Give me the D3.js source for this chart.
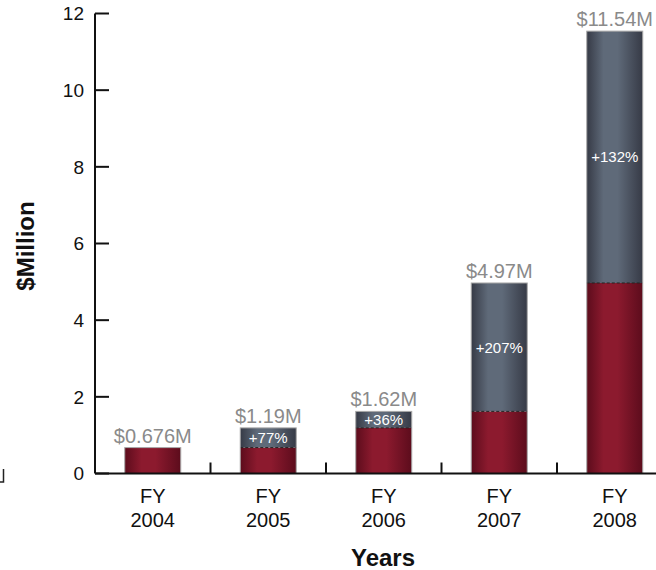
<!DOCTYPE html>
<html>
<head>
<meta charset="utf-8">
<script src="https://cdn.jsdelivr.net/npm/d3@7"></script>
<style>
  html, body { margin: 0; padding: 0; background: #fff; }
  svg { display: block; font-family: "Liberation Sans", Arial, sans-serif; }
</style>
</head>
<body>
<svg id="chart" width="656" height="570"></svg>
<script>
// Annual revenue, $ million
const years = ["2004", "2005", "2006", "2007", "2008"];
const totals = [0.676, 1.19, 1.62, 4.97, 11.54];
const totalLabels = ["$0.676M", "$1.19M", "$1.62M", "$4.97M", "$11.54M"];
const growthLabels = ["", "+77%", "+36%", "+207%", "+132%"];
const yTicks = [0, 2, 4, 6, 8, 10, 12];

const svg = d3.select("#chart");
const x0 = 95, y0 = 473.5, yTop = 13.5;
const bandW = 115.5;

const x = d3.scaleBand().domain(years).range([x0, x0 + bandW * years.length]).padding(0);
const y = d3.scaleLinear().domain([0, 12]).range([y0, yTop]);
const barW = 56;

// gradients
const defs = svg.append("defs");
function grad(id, edge, mid) {
  const g = defs.append("linearGradient").attr("id", id).attr("x1", "0%").attr("x2", "100%");
  g.append("stop").attr("offset", "0%").attr("stop-color", edge);
  g.append("stop").attr("offset", "30%").attr("stop-color", mid);
  g.append("stop").attr("offset", "55%").attr("stop-color", mid);
  g.append("stop").attr("offset", "100%").attr("stop-color", edge);
}
grad("gRed", "#5c0c1c", "#8c1a2e");
grad("gGray", "#363a46", "#5f6a79");

// previous year's level within each bar
const base = totals.map((v, i) => i === 0 ? v : totals[i - 1]);

const bars = svg.append("g");
years.forEach((yr, i) => {
  const bx = x(yr) + (x.bandwidth() - barW) / 2;
  const g = bars.append("g");
  // red: carried-over level
  g.append("rect")
    .attr("x", bx).attr("width", barW)
    .attr("y", y(base[i])).attr("height", y(0) - y(base[i]))
    .attr("fill", "url(#gRed)");
  if (i > 0) {
    // gray: year-over-year increase
    g.append("rect")
      .attr("x", bx).attr("width", barW)
      .attr("y", y(totals[i])).attr("height", y(base[i]) - y(totals[i]))
      .attr("fill", "url(#gGray)");
    g.append("line")
      .attr("x1", bx).attr("x2", bx + barW)
      .attr("y1", y(base[i])).attr("y2", y(base[i]))
      .attr("stroke", "#222").attr("stroke-width", 1).attr("stroke-dasharray", "3,2");
    g.append("text")
      .attr("x", bx + barW / 2)
      .attr("y", (y(base[i]) + y(totals[i])) / 2)
      .attr("dy", "0.36em")
      .attr("text-anchor", "middle")
      .attr("fill", "#fff").attr("font-size", 15)
      .text(growthLabels[i]);
  }
  // thin outline around the whole bar
  g.append("rect")
    .attr("x", bx).attr("width", barW)
    .attr("y", y(totals[i])).attr("height", y(0) - y(totals[i]))
    .attr("fill", "none").attr("stroke", "#a8a8a8").attr("stroke-width", 1);
  g.append("text")
    .attr("x", bx + barW / 2)
    .attr("y", y(totals[i]) - 5)
    .attr("text-anchor", "middle")
    .attr("fill", "#8a8a8a").attr("font-size", 20)
    .text(totalLabels[i]);
});

// y axis
const yAxis = svg.append("g");
yAxis.append("line").attr("x1", x0).attr("x2", x0).attr("y1", yTop).attr("y2", y0)
  .attr("stroke", "#111").attr("stroke-width", 2);
yTicks.forEach(t => {
  yAxis.append("line").attr("x1", x0).attr("x2", x0 + 14).attr("y1", y(t)).attr("y2", y(t))
    .attr("stroke", "#111").attr("stroke-width", 2);
  yAxis.append("text").attr("x", x0 - 11).attr("y", y(t)).attr("dy", "0.36em")
    .attr("text-anchor", "end").attr("font-size", 19).attr("fill", "#111").text(t);
});

// x axis
const xAxis = svg.append("g");
xAxis.append("line").attr("x1", x0).attr("x2", 656).attr("y1", y0).attr("y2", y0)
  .attr("stroke", "#111").attr("stroke-width", 2);
years.slice(1).forEach(yr => {
  xAxis.append("line").attr("x1", x(yr)).attr("x2", x(yr)).attr("y1", y0).attr("y2", y0 - 11)
    .attr("stroke", "#111").attr("stroke-width", 2);
});
years.forEach(yr => {
  const cx = x(yr) + x.bandwidth() / 2;
  xAxis.append("text").attr("x", cx).attr("y", 503).attr("text-anchor", "middle")
    .attr("font-size", 20).attr("fill", "#111").text("FY");
  xAxis.append("text").attr("x", cx).attr("y", 527).attr("text-anchor", "middle")
    .attr("font-size", 20).attr("fill", "#111").text(yr);
});

// axis titles
svg.append("text").attr("x", 383).attr("y", 566).attr("text-anchor", "middle")
  .attr("font-size", 24).attr("font-weight", "bold").attr("fill", "#111").text("Years");
svg.append("text").attr("transform", "translate(34,246) rotate(-90)")
  .attr("text-anchor", "middle").attr("font-size", 24).attr("font-weight", "bold")
  .attr("fill", "#111").text("$Million");

// small corner mark at the left edge
svg.append("path").attr("d", "M3.5,469 V482 H0").attr("fill", "none")
  .attr("stroke", "#222").attr("stroke-width", 1.5);
</script>
</body>
</html>
